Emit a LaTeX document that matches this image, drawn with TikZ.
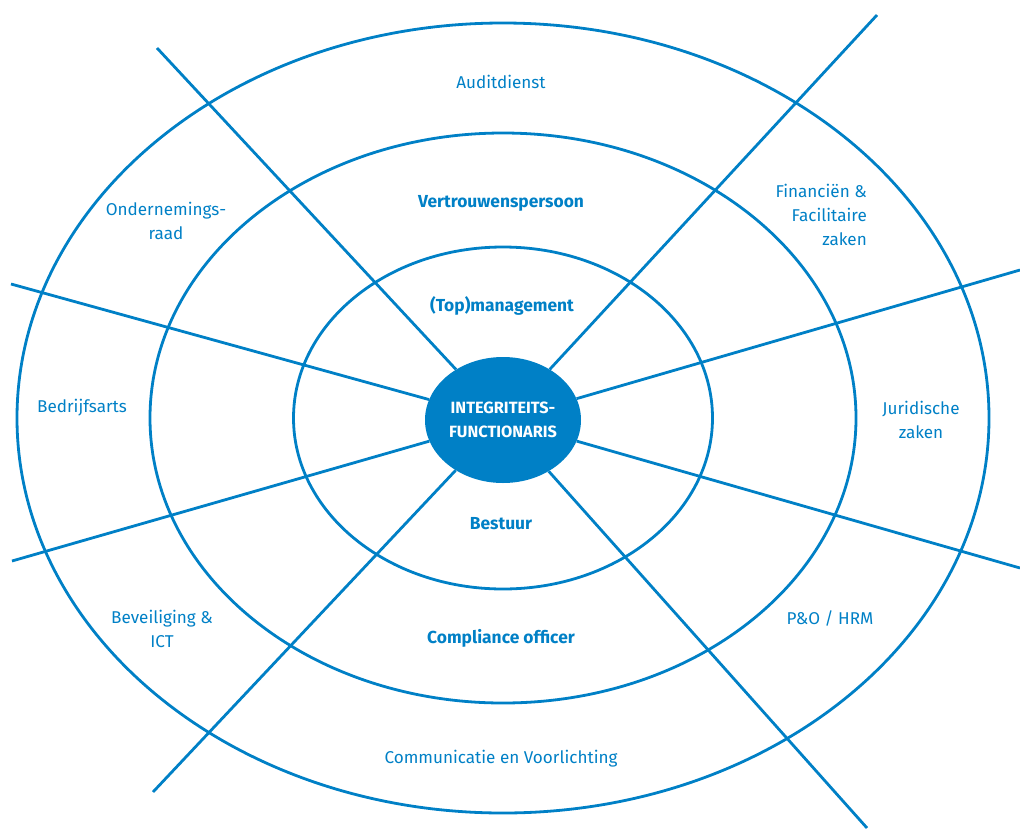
\documentclass[tikz,border=0pt]{standalone}
\usepackage{fontspec}
\setmainfont{Fira Sans}
\usetikzlibrary{shapes.geometric}
\definecolor{ringblue}{HTML}{0080C6}
\begin{document}
\begin{tikzpicture}[x=1pt,y=-1pt,
  ring/.style={draw=ringblue,line width=2.8pt},
  spoke/.style={draw=ringblue,line width=2.8pt},
  lbl/.style={text=ringblue,font=\fontsize{17.1}{24}\selectfont,align=center,inner sep=0pt},
  blbl/.style={text=ringblue,font=\fontsize{17.4}{24}\selectfont\bfseries,align=center,inner sep=0pt},
  hub/.style={ellipse,fill=ringblue,draw=none,minimum width=156pt,minimum height=126pt,inner sep=0pt,
    text=white,font=\fontsize{16.3}{24}\selectfont\bfseries,align=center}]
\useasboundingbox (0,0) rectangle (1020,828);
\coordinate (c0) at (503,418);
\draw[ring] (c0) ellipse [x radius=486,y radius=395];
\draw[ring] (c0) ellipse [x radius=353,y radius=285];
\draw[ring] (c0) ellipse [x radius=209.5,y radius=171];
\node[hub] (hub) at (503,420) {INTEGRITEITS-\\FUNCTIONARIS};
\coordinate (e1) at (157,48);
\coordinate (e2) at (877,15);
\coordinate (e3) at (11,284);
\coordinate (e4) at (1020,270);
\coordinate (e5) at (12,561);
\coordinate (e6) at (1020,568);
\coordinate (e7) at (153,792);
\coordinate (e8) at (867,828);
\foreach \e in {e1,e2,e3,e4,e5,e6,e7,e8} \draw[spoke] (\e) -- (hub);
\node[lbl] (aud) at (501,82) {Auditdienst};
\node[lbl] (ond) at (166,221) {Ondernemings-\\raad};
\node[blbl] (ver) at (501,203) {Vertrouwenspersoon};
\node[lbl,align=right,anchor=east] (fin) at (867,215) {Financiën \&\\Facilitaire\\zaken};
\node[blbl] (top) at (502,306) {(Top)management};
\node[lbl] (bed) at (82,408) {Bedrijfsarts};
\node[lbl] (jur) at (921,420) {Juridische\\zaken};
\node[blbl] (bes) at (501,524) {Bestuur};
\node[lbl] (bev) at (162,629) {Beveiliging \&\\ICT};
\node[blbl] (com) at (501,638) {Compliance officer};
\node[lbl] (pho) at (830,618) {P\&O / HRM};
\node[lbl] (cv) at (501,759) {Communicatie en Voorlichting};
\end{tikzpicture}
\end{document}
